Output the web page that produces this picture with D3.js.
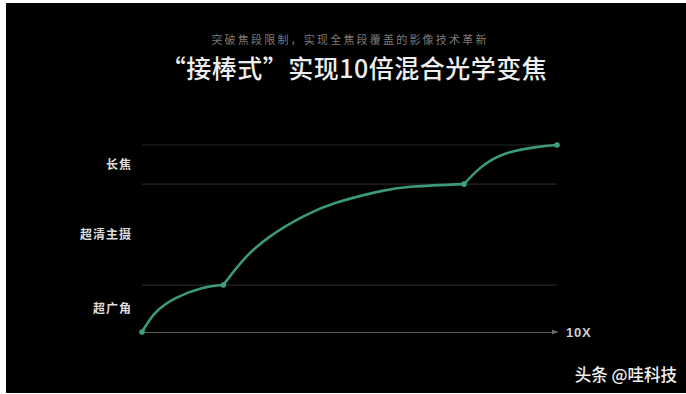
<!DOCTYPE html>
<html><head><meta charset="utf-8">
<script src="https://cdn.jsdelivr.net/npm/d3@7"></script>
<style>html,body{margin:0;padding:0;background:#fff;}svg{display:block;}</style>
</head><body>
<script>
// ---- data ----
const title = "“接棒式”实现10倍混合光学变焦";
const subtitle = "突破焦段限制，实现全焦段覆盖的影像技术革新";
const xTickLabel = "10X";
const watermark = "头条 @哇科技";
const bandLabels = ["超广角", "超清主摄", "长焦"];
const bandEdges = [0, 25.1, 79.1, 100];          // level boundaries (gridlines)
// three zoom-stage curves: x = zoom progress (0..10), y = level
const seg1X = [0, 0.31, 0.80, 1.44, 1.96];
const seg1Y = [0, 10.0, 18.0, 23.4, 25.1];
const seg2X = [1.96, 2.44, 3.08, 3.89, 4.69, 5.73, 6.54, 7.76];
const seg2Y = [25.1, 38.5, 51.0, 61.8, 69.2, 75.2, 77.8, 79.1];
const seg3X = [7.76, 8.14, 8.75, 9.55, 10.0];
const seg3Y = [79.1, 87.5, 95.3, 99.0, 100];
const breakX = [0, 1.96, 7.76, 10];
const breakY = [0, 25.1, 79.1, 100];

// ---- chart ----
const W = 686, H = 394;
const svg = d3.select("body").append("svg").attr("width", W).attr("height", H);
svg.append("rect").attr("x", 6).attr("y", 3).attr("width", W - 6).attr("height", 390).attr("fill", "#000");

const x = d3.scaleLinear().domain([0, 10]).range([142, 557]);
const y = d3.scaleLinear().domain([0, 100]).range([332, 145]);

const font = "'Noto Sans CJK SC','Noto Sans',sans-serif";

svg.append("text").attr("x", 350).attr("y", 44).attr("text-anchor", "middle")
  .attr("font-family", font).attr("font-size", 11).attr("letter-spacing", 2.2)
  .attr("fill", "#7a7a7a").text(subtitle);
svg.append("text").attr("x", 354).attr("y", 78).attr("text-anchor", "middle")
  .attr("font-family", font).attr("font-size", 25).attr("font-weight", 500)
  .attr("letter-spacing", 0.5).attr("fill", "#eeeeee").text(title);

// gridlines
svg.append("g").selectAll("line").data(bandEdges.slice(1)).join("line")
  .attr("x1", x(0)).attr("x2", x(10)).attr("y1", d => y(d)).attr("y2", d => y(d))
  .attr("stroke", "#262626").attr("stroke-width", 1.2);

// x axis
const xAxis = d3.axisBottom(x).tickValues([]).tickSizeOuter(0);
const ax = svg.append("g").attr("transform", `translate(0,${y(0)})`).call(xAxis);
ax.select(".domain").attr("stroke", "#5a5a5a").attr("stroke-width", 1.2);
svg.append("path")
  .attr("d", `M${x(10) - 5},${y(0) - 2.5} L${x(10) + 1},${y(0)} L${x(10) - 5},${y(0) + 2.5} Z`)
  .attr("fill", "#6a6a6a");
svg.append("text").attr("x", x(10) + 9).attr("y", y(0) + 5)
  .attr("font-family", "'Liberation Sans',Arial,sans-serif").attr("font-size", 13).attr("font-weight", "bold")
  .attr("letter-spacing", 0.8).attr("fill", "#cfcfcf").text(xTickLabel);

// band labels
svg.append("g").selectAll("text").data(bandLabels).join("text")
  .attr("x", 132).attr("y", (d, i) => y((bandEdges[i] + bandEdges[i + 1]) / 2))
  .attr("dy", "0.36em").attr("text-anchor", "end")
  .attr("font-family", font).attr("font-size", 12).attr("font-weight", "bold")
  .attr("letter-spacing", 1).attr("fill", "#dddddd").text(d => d);

// curves
const line = d3.line().x(d => x(d[0])).y(d => y(d[1])).curve(d3.curveNatural);
const segs = [[seg1X, seg1Y], [seg2X, seg2Y], [seg3X, seg3Y]];
svg.append("g").selectAll("path").data(segs).join("path")
  .attr("d", s => line(d3.zip(s[0], s[1])))
  .attr("fill", "none").attr("stroke", "#3b9a77").attr("stroke-width", 2.6)
  .attr("stroke-linecap", "round");
svg.append("g").selectAll("circle").data(d3.zip(breakX, breakY)).join("circle")
  .attr("cx", d => x(d[0])).attr("cy", d => y(d[1])).attr("r", 2.8).attr("fill", "#3fa07c");

// watermark
svg.append("text").attr("x", 677).attr("y", 381).attr("text-anchor", "end")
  .attr("font-family", font).attr("font-size", 16.5).attr("font-weight", 500)
  .attr("fill", "#f2f2f2").text(watermark);
</script>
</body></html>
